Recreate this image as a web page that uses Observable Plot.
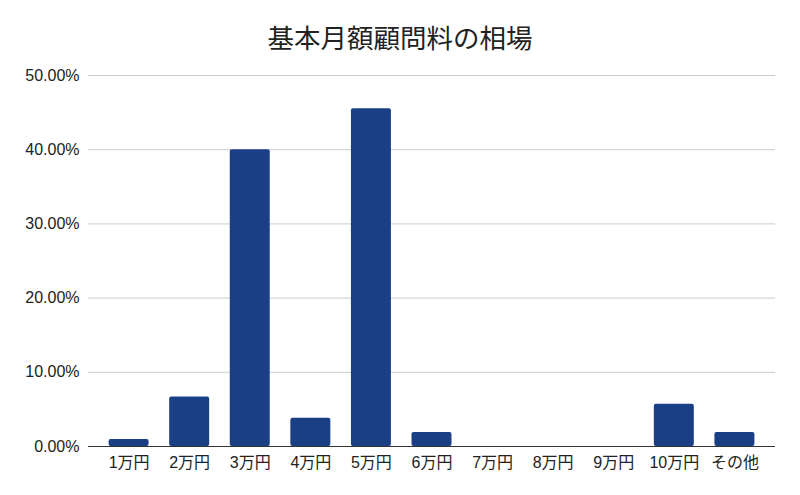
<!DOCTYPE html>
<html>
<head>
<meta charset="utf-8">
<script src="https://cdn.jsdelivr.net/npm/d3@7"></script>
<script src="https://cdn.jsdelivr.net/npm/@observablehq/plot@0.6"></script>
<style>
  body { margin: 0; background: #fff; font-family: "Liberation Sans", Arial, "Noto Sans CJK JP", sans-serif; }
  #title { height: 60px; width: 800px; text-align: center; font-size: 26.5px; line-height: 26px; padding-top: 26px; box-sizing: border-box; color: #222; }
</style>
</head>
<body>
<div id="title">基本月額顧問料の相場</div>
<div id="chart"></div>
<script>
const categories = ["1万円", "2万円", "3万円", "4万円", "5万円", "6万円", "7万円", "8万円", "9万円", "10万円", "その他"];
const values = [0.0095, 0.0667, 0.40, 0.0381, 0.4552, 0.019, 0, 0, 0, 0.0571, 0.019];
const yTicks = [0, 0.1, 0.2, 0.3, 0.4, 0.5];

const data = categories.map((c, i) => ({cat: c, val: values[i]}));
const fmt = d => (d * 100).toFixed(2) + "%";

const chart = Plot.plot({
  width: 800,
  height: 435,
  marginLeft: 88,
  marginRight: 25,
  marginTop: 15,
  marginBottom: 49,
  style: {fontFamily: "'Liberation Sans', Arial, 'Noto Sans CJK JP', sans-serif", fontSize: "16px", color: "#222", background: "#fff"},
  x: {domain: categories, padding: 0.34, round: false},
  y: {domain: [0, 0.5]},
  marks: [
    Plot.gridY(yTicks, {stroke: "#ccc", strokeOpacity: 1}),
    Plot.axisY(yTicks, {tickSize: 0, tickPadding: 9, tickFormat: fmt, label: null, fontSize: 16}),
    Plot.axisX({tickSize: 0, tickPadding: 10, label: null, fontSize: 16}),
    Plot.barY(data, {x: "cat", y: "val", fill: "#1a3f84", rx: 2}),
    Plot.ruleY([0], {stroke: "#333", strokeWidth: 1})
  ]
});
document.getElementById("chart").appendChild(chart);
</script>
</body>
</html>
